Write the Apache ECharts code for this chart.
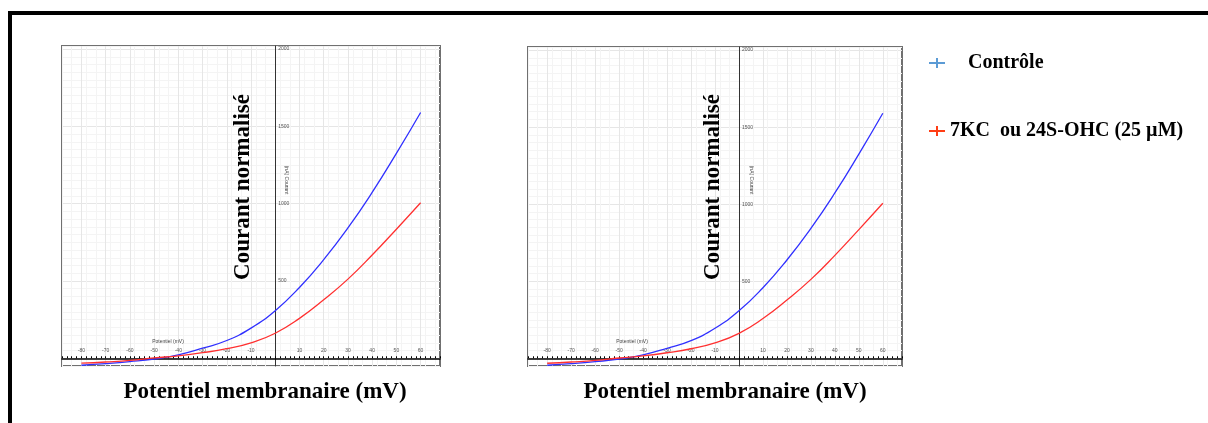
<!DOCTYPE html>
<html>
<head>
<meta charset="utf-8">
<script src="https://cdn.jsdelivr.net/npm/echarts@6/dist/echarts.min.js"></script>
<style>
html, body { margin: 0; padding: 0; background: #fff; }
#main { width: 1208px; height: 423px; }
</style>
</head>
<body>
<div id="main"></div>
<script>
// data (both panels show the same curves)
var voltages = [-80, -70, -60, -50, -40, -30, -20, -10, 0, 10, 20, 30, 40, 50, 60];
var controle = [-45, -35, -22, -5, 22, 65, 115, 195, 308, 458, 638, 843, 1073, 1325, 1590];
var traite = [-32, -24, -14, 2, 16, 36, 62, 100, 162, 258, 378, 512, 668, 835, 1006];
var xTickLabels = [-80, -70, -60, -50, -40, -30, -20, -10, 10, 20, 30, 40, 50, 60];
var yTickLabels = [500, 1000, 1500, 2000];
var seriesNames = ['Contrôle', '7KC  ou 24S-OHC (25 µM)'];

var serif = '"Liberation Serif", "Times New Roman", serif';
var plusIcon = 'path://M0,4H16V6H0Z M7,0H9V10H7Z';
var X_MIN = -88, X_MAX = 68, Y_MIN = -50, Y_MAX = 2020;

var grids = [
	{ left : 62, top : 46, width : 378, height : 320 },
	{ left : 528, top : 47, width : 374, height : 319 }
];

function pairs(ys) {
	return voltages.map(function (v, i) { return [v, ys[i]]; });
}

function xAxisFor(g) {
	// move the whole axis up to the y = 0 line
	var up = (0 - Y_MIN) / (Y_MAX - Y_MIN) * grids[g].height;
	return {
		gridIndex : g,
		type : 'value',
		min : X_MIN,
		max : X_MAX,
		interval : 2,
		position : 'bottom',
		offset : -up,
		axisLine : { onZero : false, lineStyle : { color : '#000', width : 1.5 } },
		axisTick : { inside : true, length : 2, lineStyle : { color : '#000' } },
		axisLabel : {
			inside : true,
			margin : 5,
			fontSize : 5,
			color : '#555',
			formatter : function (v) {
				return xTickLabels.indexOf(v) >= 0 ? String(v) : '';
			}
		},
		splitLine : {
			show : true,
			// ticks every 2 mV starting at -88 -> major line every 10 mV
			lineStyle : { width : 1, color : [ '#f4f4f4', 'rgba(0,0,0,0)', '#f4f4f4', 'rgba(0,0,0,0)', '#e6e6e6' ] }
		}
	};
}

function yAxisFor(g) {
	var right = (0 - X_MIN) / (X_MAX - X_MIN) * grids[g].width;
	return {
		gridIndex : g,
		type : 'value',
		min : Y_MIN,
		max : Y_MAX,
		interval : 50,
		position : 'left',
		offset : -right,
		axisLine : { onZero : false, lineStyle : { color : '#333', width : 1 } },
		axisTick : { show : false },
		axisLabel : {
			inside : true,
			margin : 3,
			fontSize : 5,
			color : '#555',
			formatter : function (v) {
				return yTickLabels.indexOf(v) >= 0 ? String(v) : '';
			}
		},
		splitLine : {
			show : true,
			lineStyle : { width : 1, color : [ '#f4f4f4', '#e6e6e6', '#f4f4f4', '#f4f4f4', '#f4f4f4', '#f4f4f4', '#f4f4f4', '#f4f4f4', '#f4f4f4', '#f4f4f4' ] }
		}
	};
}

function curve(g, name, ys, color) {
	return {
		name : name,
		type : 'line',
		xAxisIndex : g,
		yAxisIndex : g,
		smooth : 0.5,
		showSymbol : false,
		color : color,
		lineStyle : { color : color, width : 1.3 },
		data : pairs(ys)
	};
}

function panelTexts(cx, yAxisX) {
	return [ {
		type : 'text',
		x : cx.title,
		y : 187,
		z : 100,
		rotation : Math.PI / 2,
		style : { text : 'Courant normalisé', fontFamily : serif, fontWeight : 'bold', fontSize : 23, fill : '#000', align : 'center', verticalAlign : 'middle' }
	}, {
		type : 'text',
		x : cx.xname,
		y : 392,
		z : 100,
		style : { text : 'Potentiel membranaire (mV)', fontFamily : serif, fontWeight : 'bold', fontSize : 23, fill : '#000', align : 'center', verticalAlign : 'middle' }
	}, {
		type : 'text',
		x : cx.small,
		y : 342,
		z : 100,
		style : { text : 'Potentiel (mV)', fontSize : 5, fill : '#444', align : 'center', verticalAlign : 'middle' }
	}, {
		type : 'text',
		x : yAxisX + 11,
		y : 180,
		z : 100,
		rotation : -Math.PI / 2,
		style : { text : '(nA) Courant', fontSize : 5, fill : '#444', align : 'center', verticalAlign : 'middle' }
	} ];
}

var myChart = echarts.init(document.getElementById('main'));

var graphics = [ {
	type : 'rect',
	shape : { x : 10, y : 13, width : 1400, height : 600 },
	style : { fill : 'none', stroke : '#000', lineWidth : 4 },
	z : 100
} ];
graphics = graphics.concat(panelTexts({ title : 243, xname : 265, small : 168 }, 275));
graphics = graphics.concat(panelTexts({ title : 713, xname : 725, small : 632 }, 740));

option = {
	backgroundColor : '#fff',
	animation : false,
	legend : {
		orient : 'vertical',
		left : 924,
		top : 48,
		itemGap : 48,
		itemWidth : 16,
		itemHeight : 10,
		textStyle : {
			fontFamily : serif, fontWeight : 'bold', fontSize : 20, color : '#000',
			rich : {
				pad : { fontFamily : serif, fontWeight : 'bold', fontSize : 20, color : '#000', padding : [ 0, 0, 0, 18 ] }
			}
		},
		formatter : function (name) {
			return name === seriesNames[0] ? '{pad|' + name + '}' : name;
		},
		data : [ {
			name : seriesNames[0],
			icon : plusIcon,
			itemStyle : { color : '#5b9bd5' }
		}, {
			name : seriesNames[1],
			icon : plusIcon,
			itemStyle : { color : '#ff3d14' }
		} ]
	},
	grid : grids.map(function (g) {
		return {
			left : g.left, top : g.top, width : g.width, height : g.height,
			show : true, borderColor : '#707070', borderWidth : 2
		};
	}),
	xAxis : [ xAxisFor(0), xAxisFor(1) ],
	yAxis : [ yAxisFor(0), yAxisFor(1) ],
	series : [
		curve(0, seriesNames[0], controle, '#3030ff'),
		curve(0, seriesNames[1], traite, '#ff3030'),
		curve(1, seriesNames[0], controle, '#3030ff'),
		curve(1, seriesNames[1], traite, '#ff3030')
	],
	graphic : graphics
};
myChart.setOption(option);
</script>
</body>
</html>
